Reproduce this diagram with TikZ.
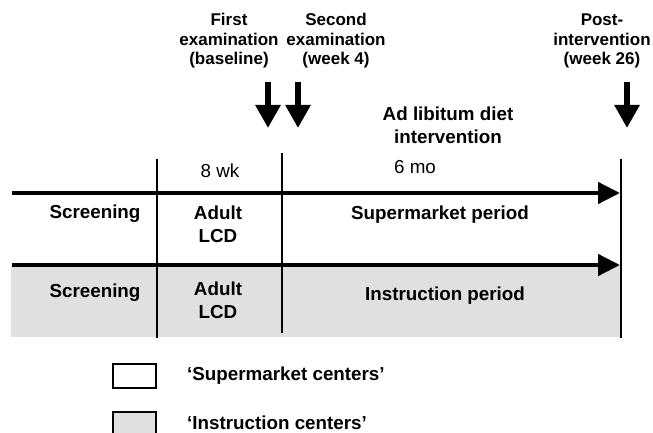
\documentclass[tikz,border=0pt]{standalone}
\usepackage{fontspec}
\setmainfont{Liberation Sans}
\usetikzlibrary{arrows.meta}
\definecolor{bandgray}{RGB}{224,224,224}
\tikzset{
  body/.style={inner sep=0pt, anchor=base, font=\fontsize{18.8}{22.5}\selectfont\bfseries, align=center},
  plain/.style={inner sep=0pt, anchor=base, font=\fontsize{18.8}{23}\selectfont},
  head/.style={inner sep=0pt, anchor=base, font=\fontsize{17}{19.5}\selectfont\bfseries, align=center},
  timeline/.style={line width=4.5pt, -{Triangle[length=22pt,width=21pt]}},
  downarrow/.style={line width=6pt, -{Triangle[length=23pt,width=24pt]}},
  divider/.style={line width=1.6pt},
  legbox/.style={draw, line width=1.6pt, minimum width=43pt, minimum height=24pt, inner sep=0pt, anchor=north west}
}
\begin{document}
\begin{tikzpicture}[x=1pt,y=-1pt]
\useasboundingbox (0,0) rectangle (653,433);
% gray band
\fill[bandgray] (11,265) rectangle (621,337);
% coordinates
\coordinate (h1s) at (12,193);
\coordinate (h1e) at (620,193);
\coordinate (h2s) at (12,265);
\coordinate (h2e) at (620,265);
\coordinate (v1t) at (157,159);
\coordinate (v1b) at (157,338);
\coordinate (v2t) at (282,153);
\coordinate (v2b) at (282,333);
\coordinate (v3t) at (621,159);
\coordinate (v3b) at (621,338);
\coordinate (d1t) at (268,82);
\coordinate (d1b) at (268,128);
\coordinate (d2t) at (298,82);
\coordinate (d2b) at (298,128);
\coordinate (d3t) at (627,82);
\coordinate (d3b) at (627,128);
% dividers
\draw[divider] (v1t) -- (v1b);
\draw[divider] (v2t) -- (v2b);
\draw[divider] (v3t) -- (v3b);
% timelines
\draw[timeline] (h1s) -- (h1e);
\draw[timeline] (h2s) -- (h2e);
% down arrows
\draw[downarrow] (d1t) -- (d1b);
\draw[downarrow] (d2t) -- (d2b);
\draw[downarrow] (d3t) -- (d3b);
% headers (base anchor = last line's baseline)
\node[head] (first) at (229,65) {First\\examination\\(baseline)};
\node[head] (second) at (336,65) {Second\\examination\\(week 4)};
\node[head] (post) at (602,65) {Post-\\intervention\\(week 26)};
\node[body] (adlib) at (448,143) {Ad libitum diet\\intervention};
\node[plain] (wk) at (220,177) {8 wk};
\node[plain] (mo) at (415,173) {6 mo};
% row 1
\node[body] (scr1) at (95,218) {Screening};
\node[body] (lcd1) at (218,242) {Adult\\LCD};
\node[body] (sup) at (440,219) {Supermarket period};
% row 2
\node[body] (scr2) at (95,297) {Screening};
\node[body] (lcd2) at (218,318) {Adult\\LCD};
\node[body] (ins) at (445,300) {Instruction period};
% legend
\node[legbox, fill=white] (lb1) at (112,363) {};
\node[legbox, fill=bandgray] (lb2) at (112,411) {};
\node[body, anchor=base west] (lt1) at (187,380) {‘Supermarket centers’};
\node[body, anchor=base west] (lt2) at (187,429) {‘Instruction centers’};
\end{tikzpicture}
\end{document}
